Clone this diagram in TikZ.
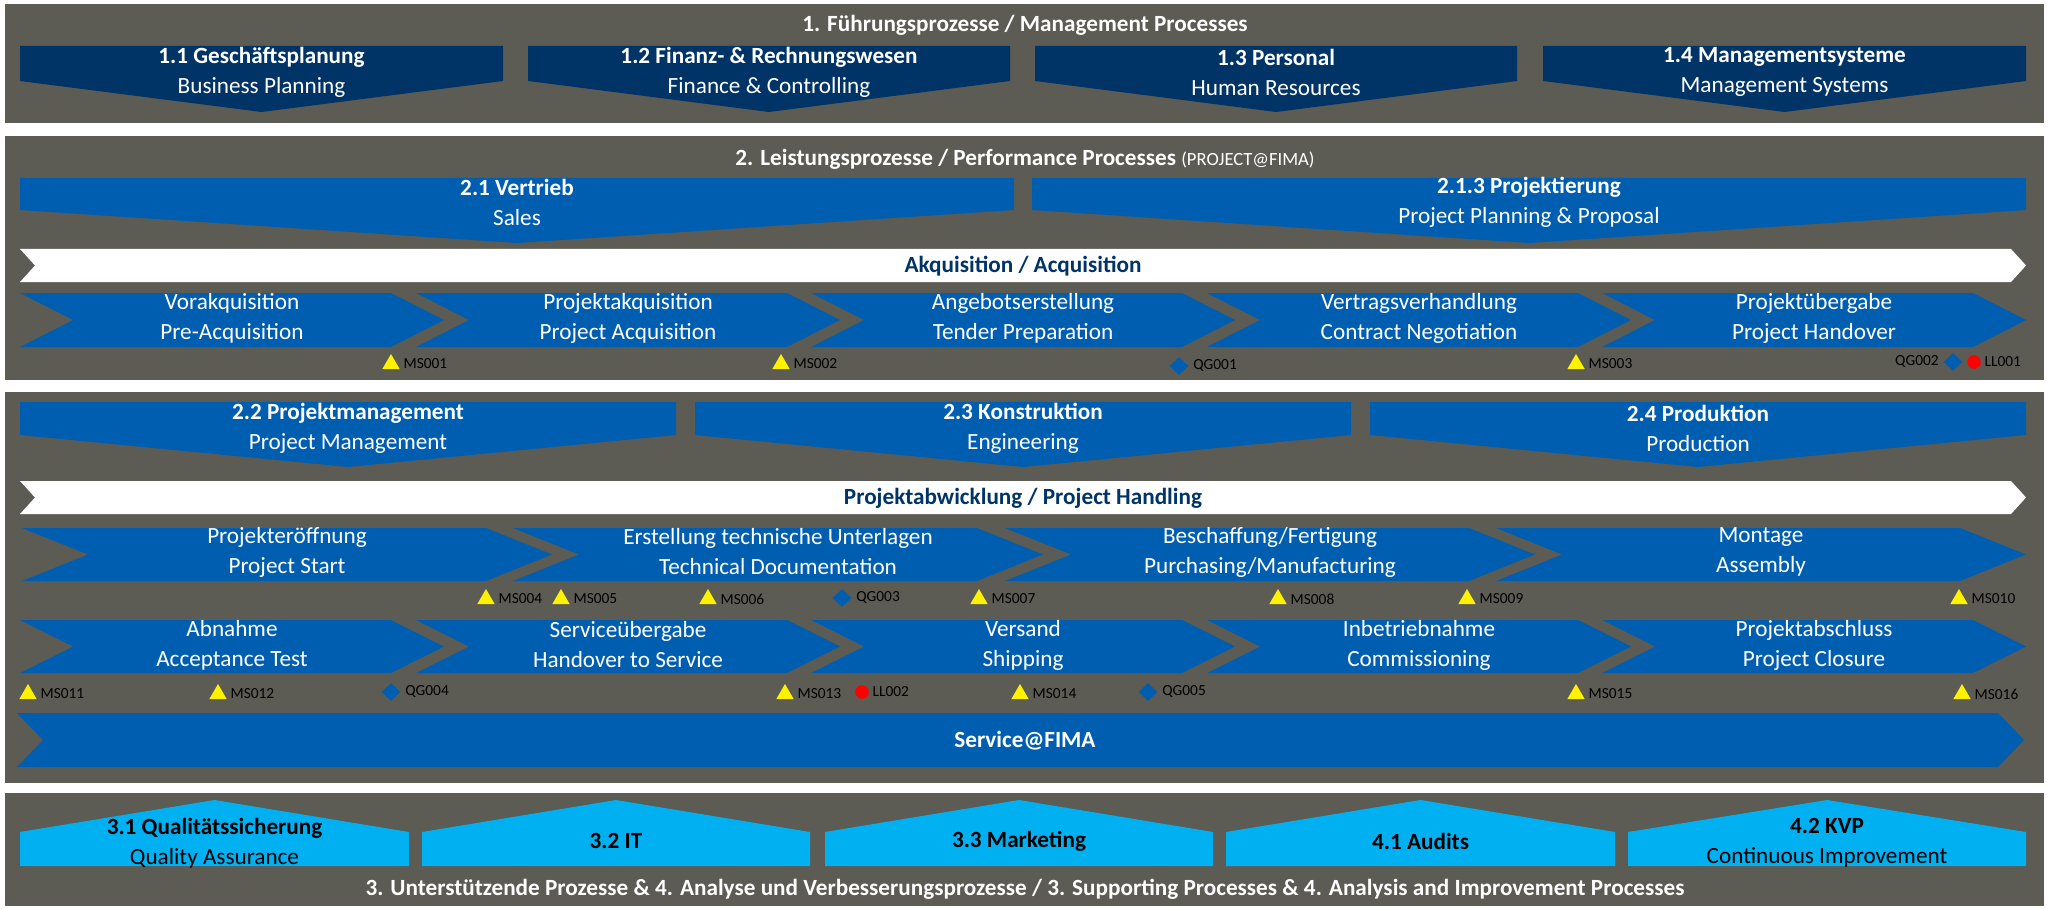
\documentclass[tikz,border=0pt]{standalone}
\usepackage{fontspec}
\setmainfont{Carlito}
\usetikzlibrary{shapes.geometric,positioning}

\definecolor{panelgray}{RGB}{92,92,84}
\definecolor{navy}{RGB}{0,51,102}
\definecolor{fimablue}{RGB}{0,94,176}
\definecolor{skyblue}{RGB}{0,176,240}

% down pentagon: style, left, right, top, side, tip
\newcommand\pentdown[6]{\fill[#1] (#2,#4) -- (#3,#4) -- (#3,#5) -- ({(#2+#3)/2},#6) -- (#2,#5) -- cycle;}
% up pentagon: style, left, right, peak, side, bottom
\newcommand\pentup[6]{\fill[#1] (#2,#6) -- (#2,#5) -- ({(#2+#3)/2},#4) -- (#3,#5) -- (#3,#6) -- cycle;}
% step chevron: style, left, tip, top, bottom, depth
\newcommand\stepchev[6]{\fill[#1] (#2,#4) -- ({#3-#6},#4) -- (#3,{(#4+#5)/2}) -- ({#3-#6},#5) -- (#2,#5) -- ({#2+#6},{(#4+#5)/2}) -- cycle;}

% markers
\newcommand\milestone[3]{\node[msmark] (#1) at (#2,#3) {}; \node[marktxt, right=3pt of #1] (#1t) {#1};}
\newcommand\gate[3]{\node[qgmark] (#1) at (#2,#3) {}; \node[marktxt, right=2pt of #1] (#1t) {#1};}
\newcommand\lesson[3]{\node[llmark] (#1) at (#2,#3) {}; \node[marktxt, right=1.5pt of #1] (#1t) {#1};}

\tikzset{
  panel/.style={fill=panelgray},
  headtxt/.style={text=white, font=\bfseries\fontsize{11.6}{14}\selectfont, inner sep=0pt},
  boxtxt/.style={text=white, align=center, font=\fontsize{11.6}{15}\selectfont, inner sep=0pt},
  suptxt/.style={text=black, align=center, font=\fontsize{11.6}{15}\selectfont, inner sep=0pt},
  arrowtxt/.style={text=navy, font=\bfseries\fontsize{11.6}{14}\selectfont, inner sep=0pt},
  msmark/.style={regular polygon, regular polygon sides=3, fill=yellow, minimum size=10pt, inner sep=0pt},
  qgmark/.style={diamond, fill=fimablue, minimum width=9.5pt, minimum height=9pt, inner sep=0pt},
  llmark/.style={circle, fill=red, minimum size=6.8pt, inner sep=0pt},
  marktxt/.style={text=black, font=\fontsize{7.7}{8}\selectfont, inner sep=0pt},
}

\begin{document}
\begin{tikzpicture}[x=0.5pt, y=-0.5pt]
\fill[white] (0,0) rectangle (2049,909);
\useasboundingbox (0,0) rectangle (2049,909);

% 1. Fuehrungsprozesse
\fill[panel] (5,4) rectangle (2044,123);
\node[headtxt] (mgmt) at (1025,25) {1. Führungsprozesse / Management Processes};
\pentdown{navy}{20}{503}{46}{81}{112}
\pentdown{navy}{528}{1010}{46}{81}{112}
\pentdown{navy}{1035}{1517}{46}{81}{112}
\pentdown{navy}{1543}{2026}{46}{81}{112}
\node[boxtxt] (plan) at (261.5,72) {\textbf{1.1 Geschäftsplanung}\\Business Planning};
\node[boxtxt] (fin) at (769,72) {\textbf{1.2 Finanz- \& Rechnungswesen}\\Finance \& Controlling};
\node[boxtxt] (hr) at (1276,72) {\textbf{1.3 Personal}\\Human Resources};
\node[boxtxt] (msys) at (1784.5,72) {\textbf{1.4 Managementsysteme}\\Management Systems};

% 2. Leistungsprozesse - Akquisition
\fill[panel] (5,136) rectangle (2044,380);
\node[headtxt] (perf) at (1025,159) {2. Leistungsprozesse / Performance Processes {\mdseries\fontsize{9.3}{10}\selectfont (PROJECT@FIMA)}};
\pentdown{fimablue}{20}{1014}{178}{210}{243}
\pentdown{fimablue}{1032}{2026}{178}{210}{243}
\node[boxtxt] (sales) at (517,202) {\textbf{2.1 Vertrieb}\\Sales};
\node[boxtxt] (proj) at (1529,202) {\textbf{2.1.3 Projektierung}\\Project Planning \& Proposal};
\stepchev{white}{20}{2026}{249}{282}{15}
\node[arrowtxt] (acq) at (1023,266) {Akquisition / Acquisition};
\stepchev{fimablue}{20}{444}{293}{347}{53}
\stepchev{fimablue}{416}{840}{293}{347}{53}
\stepchev{fimablue}{811}{1235}{293}{347}{53}
\stepchev{fimablue}{1207}{1631}{293}{347}{53}
\stepchev{fimablue}{1602}{2026}{293}{347}{53}
\node[boxtxt] (preacq) at (232,318) {Vorakquisition\\Pre-Acquisition};
\node[boxtxt] (projacq) at (628,318) {Projektakquisition\\Project Acquisition};
\node[boxtxt] (tender) at (1023,318) {Angebotserstellung\\Tender Preparation};
\node[boxtxt] (contract) at (1419,318) {Vertragsverhandlung\\Contract Negotiation};
\node[boxtxt] (handover) at (1814,318) {Projektübergabe\\Project Handover};
\milestone{MS001}{391}{364}
\milestone{MS002}{781}{364}
\gate{QG001}{1179}{366}
\milestone{MS003}{1576}{364}
\node[qgmark] (QG002) at (1953,362) {};
\node[marktxt, left=2pt of QG002] (QG002t) {QG002};
\lesson{LL001}{1974}{362}

% 2. Leistungsprozesse - Projektabwicklung
\fill[panel] (5,392) rectangle (2044,783);
\pentdown{fimablue}{20}{676}{402}{435}{467}
\pentdown{fimablue}{695}{1351}{402}{435}{467}
\pentdown{fimablue}{1370}{2026}{402}{435}{467}
\node[boxtxt] (pm) at (348,428) {\textbf{2.2 Projektmanagement}\\Project Management};
\node[boxtxt] (eng) at (1023,428) {\textbf{2.3 Konstruktion}\\Engineering};
\node[boxtxt] (prod) at (1698,428) {\textbf{2.4 Produktion}\\Production};
\stepchev{white}{20}{2026}{481}{514}{15}
\node[arrowtxt] (handling) at (1023,498) {Projektabwicklung / Project Handling};
\stepchev{fimablue}{22}{552}{528}{581}{66}
\stepchev{fimablue}{513}{1043}{528}{581}{66}
\stepchev{fimablue}{1005}{1535}{528}{581}{66}
\stepchev{fimablue}{1496}{2026}{528}{581}{66}
\node[boxtxt] (start) at (287,552) {Projekteröffnung\\Project Start};
\node[boxtxt] (techdoc) at (778,552) {Erstellung technische Unterlagen\\Technical Documentation};
\node[boxtxt] (purch) at (1270,552) {Beschaffung/Fertigung\\Purchasing/Manufacturing};
\node[boxtxt] (assy) at (1761,552) {Montage\\Assembly};
\milestone{MS004}{486}{599}
\milestone{MS005}{561}{599}
\milestone{MS006}{708}{599}
\gate{QG003}{842}{598}
\milestone{MS007}{979}{599}
\milestone{MS008}{1278}{599}
\milestone{MS009}{1467}{599}
\milestone{MS010}{1959}{599}
\stepchev{fimablue}{20}{444}{620}{673}{53}
\stepchev{fimablue}{416}{840}{620}{673}{53}
\stepchev{fimablue}{811}{1235}{620}{673}{53}
\stepchev{fimablue}{1207}{1631}{620}{673}{53}
\stepchev{fimablue}{1602}{2026}{620}{673}{53}
\node[boxtxt] (accept) at (232,645) {Abnahme\\Acceptance Test};
\node[boxtxt] (service) at (628,645) {Serviceübergabe\\Handover to Service};
\node[boxtxt] (ship) at (1023,645) {Versand\\Shipping};
\node[boxtxt] (comm) at (1419,645) {Inbetriebnahme\\Commissioning};
\node[boxtxt] (closure) at (1814,645) {Projektabschluss\\Project Closure};
\milestone{MS011}{28}{694}
\milestone{MS012}{218}{694}
\gate{QG004}{391}{692}
\milestone{MS013}{785}{694}
\lesson{LL002}{862}{692}
\milestone{MS014}{1020}{694}
\gate{QG005}{1148}{692}
\milestone{MS015}{1576}{694}
\milestone{MS016}{1962}{694}
\stepchev{fimablue}{17}{2024}{713}{767}{26}
\node[headtxt] (fima) at (1025,741) {Service@FIMA};

% 3. + 4. Unterstuetzende Prozesse
\fill[panel] (5,793) rectangle (2044,906);
\pentup{skyblue}{20}{409}{800}{832}{866}
\pentup{skyblue}{422}{810}{800}{832}{866}
\pentup{skyblue}{825}{1213}{800}{832}{866}
\pentup{skyblue}{1226}{1615}{800}{832}{866}
\pentup{skyblue}{1628}{2026}{800}{832}{866}
\node[suptxt] (qa) at (214.5,843) {\textbf{3.1 Qualitätssicherung}\\Quality Assurance};
\node[suptxt] (it) at (616,841) {\textbf{3.2 IT}};
\node[suptxt] (mkt) at (1019,841) {\textbf{3.3 Marketing}};
\node[suptxt] (audit) at (1420.5,841) {\textbf{4.1 Audits}};
\node[suptxt] (kvp) at (1827,843) {\textbf{4.2 KVP}\\Continuous Improvement};
\node[headtxt] (support) at (1025,889) {3. Unterstützende Prozesse \& 4. Analyse und Verbesserungsprozesse / 3. Supporting Processes \& 4. Analysis and Improvement Processes};
\end{tikzpicture}
\end{document}
